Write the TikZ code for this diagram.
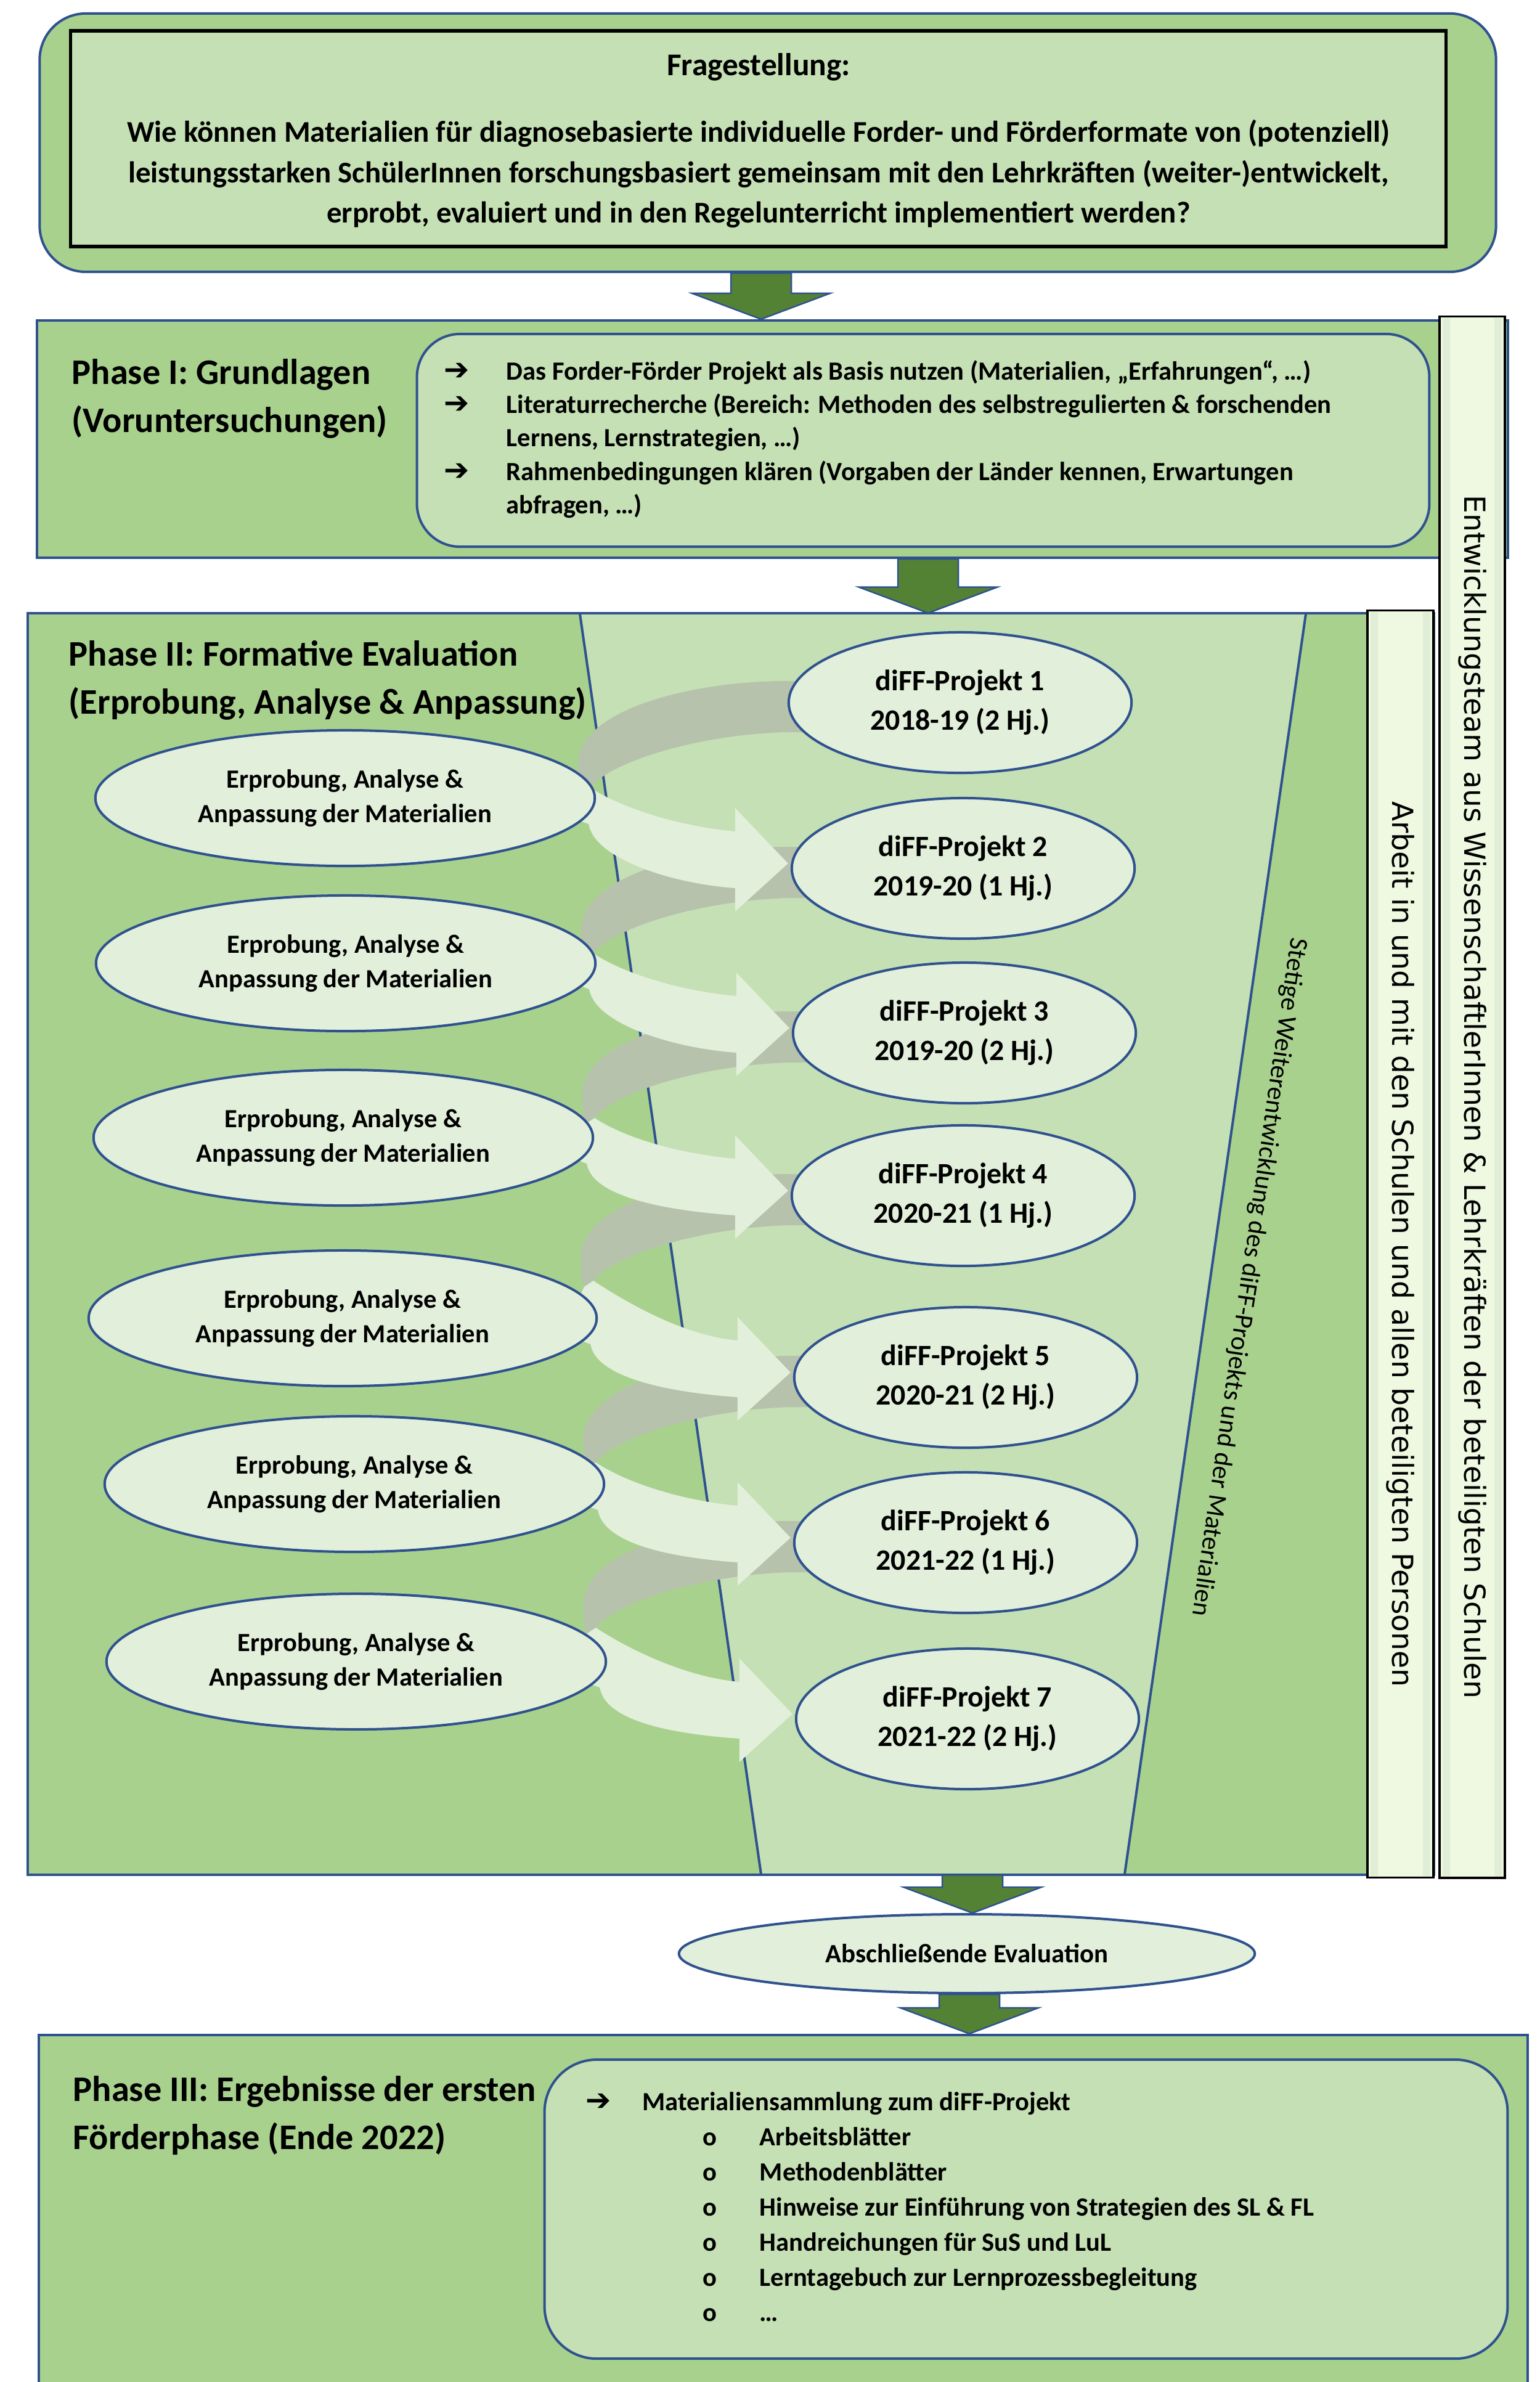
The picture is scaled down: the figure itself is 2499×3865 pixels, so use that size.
\documentclass[tikz,border=0pt]{standalone}
\usepackage{fontspec}
\setmainfont{Carlito}
\newfontfamily\bandfont{DejaVu Sans}
\newfontfamily\symfont{DejaVu Sans}
\usetikzlibrary{calc,shapes.geometric}

\definecolor{midgreen}{HTML}{A9D18E}
\definecolor{lightgreen}{HTML}{C5E0B4}
\definecolor{palegreen}{HTML}{E2EFDA}
\definecolor{ribbongray}{HTML}{B6C2AC}
\definecolor{edgeblue}{HTML}{2F528F}
\definecolor{arrowgreen}{HTML}{548235}
\definecolor{bandfill}{HTML}{EFF9E2}
\definecolor{bandstripe}{HTML}{E1EED7}

\pgfdeclarelayer{bg}
\pgfdeclarelayer{mid}
\pgfsetlayers{bg,mid,main}

\tikzset{
  bluedge/.style={draw=edgeblue, line width=0.04cm},
  outerbox/.style={fill=midgreen, bluedge, inner sep=0pt},
  innerbox/.style={fill=lightgreen, bluedge, inner sep=0pt},
  ellbase/.style={ellipse, fill=palegreen, bluedge, inner sep=0pt, align=center},
  leftell/.style={ellbase, minimum width=8.1cm, minimum height=2.2cm,
    font=\fontsize{12.1}{15.9}\selectfont\bfseries},
  rightell/.style={ellbase, minimum width=5.56cm, minimum height=2.28cm,
    font=\fontsize{13.6}{18.2}\selectfont\bfseries},
  qtext/.style={align=center, inner sep=0pt, font=\fontsize{13.9}{18.7}\selectfont\bfseries},
  phasetitle/.style={anchor=west, align=left, inner sep=0pt,
    font=\fontsize{16.6}{22.2}\selectfont\bfseries},
  listtext/.style={anchor=west, inner sep=0pt, font=\fontsize{12.1}{15.4}\selectfont\bfseries},
  bandnode/.style={fill=bandfill, draw=black, line width=0.035cm, inner sep=0pt,
    font=\fontsize{13.4}{16}\selectfont\bandfont\mdseries},
  blockarrow/.style={fill=arrowgreen, draw=edgeblue, line width=0.025cm},
}

% bullet arrow of the lists
\newcommand\listarrow{{\symfont\bfseries\fontsize{14}{14}\selectfont ➔}}

% grey back half of a spiral ribbon: from a project ellipse round to the left
\newcommand\greyribbon[1]{%
  \path ($(#1.west)+(-340,100)$) coordinate (rl) ($(#1.west)+(-320,138)$) coordinate (rj)
        ($(#1.west)+(-335,150)$) coordinate (rk);
  \fill[ribbongray] ($(#1.west)+(25,-35)$) -- ($(#1.west)+(-3,-35)$)
    .. controls ($(#1.west)+(-150,-35)$) and ($(rl)+(0,-90)$) .. (rl)
    .. controls ($(rl)+(0,25)$) and ($(rk)+(-3,-12)$) .. (rk) -- (rj)
    .. controls ($(rj)+(30,-40)$) and ($(#1.west)+(-150,52)$) .. ($(#1.west)+(-2,48)$)
    -- ($(#1.west)+(25,48)$) -- cycle;}
% pale front half with arrow head: past a work ellipse on to the next project ellipse
\newcommand\paleribbon[3]{%
  \path ($(#2.west)+(-320,138)$) coordinate (rj);
  \fill[palegreen] (rj)
    .. controls ($(rj)+(50,33)$) and ($(#3.west)+(-180,-68)$) .. ($(#3.west)+(-90,-60)$)
    -- ($(#3.west)+(-90,-98)$) -- ($(#3.west)+(-4,-8)$) -- ($(#3.west)+(-90,70)$)
    -- ($(#3.west)+(-90,32)$)
    .. controls ($(#3.west)+(-190,25)$) and ($(#1.east)+(-3,99)$) .. ($(#1.east)+(-12,42)$)
    -- ($(#1.east)+(-45,30)$) -- ($(#1.east)+(-45,0)$) -- ($(rj)+(-15,10)$) -- cycle;}
% broad downward block arrow between two nodes at a given x
\newcommand\blockarrowdraw[3]{%
  \path (#2.south -| #1) coordinate (bs) (#3.north -| #1) coordinate (be);
  \filldraw[blockarrow] ($(bs)+(-49,0)$) -- ($(be)+(-49,-42)$) -- ($(be)+(-112,-42)$)
    -- (be) -- ($(be)+(112,-42)$) -- ($(be)+(49,-42)$) -- ($(bs)+(49,0)$) -- cycle;}

\begin{document}
\begin{tikzpicture}[x=0.01cm, y=-0.01cm, font=\bfseries]
\useasboundingbox (0,0) rectangle (2499,3865);
\clip (0,0) rectangle (2499,3865);
\begin{pgfonlayer}{bg}
\fill[white] (0,0) rectangle (2499,3865);
\end{pgfonlayer}

% ---------- research question ----------
\node[outerbox, rounded corners=0.75cm, minimum width=23.62cm, minimum height=4.19cm] (top) at (1246,231.5) {};
\node[fill=lightgreen, draw=black, line width=0.055cm, minimum width=22.31cm, minimum height=3.5cm, inner sep=0pt] (qbox) at (1230.5,225) {};
\node[qtext, font=\fontsize{14.6}{18}\selectfont\bfseries] (qhead) at (1231,109) {Fragestellung:};
\node[qtext] (qbody) at (1231,282) {Wie können Materialien für diagnosebasierte individuelle Forder- und Förderformate von (potenziell)\\
leistungsstarken SchülerInnen forschungsbasiert gemeinsam mit den Lehrkräften (weiter-)entwickelt,\\
erprobt, evaluiert und in den Regelunterricht implementiert werden?};

% ---------- phase I ----------
\node[outerbox, minimum width=23.85cm, minimum height=3.85cm] (ph1) at (1253.5,712.5) {};
\node[innerbox, rounded corners=0.7cm, minimum width=16.42cm, minimum height=3.45cm] (ph1in) at (1498,714.5) {};
\node[phasetitle] (ph1title) at (116,647) {Phase I: Grundlagen\\(Voruntersuchungen)};
\node[listtext] (ph1list) at (720,714) {\begin{tabular}{@{}p{1.01cm}@{}l@{}}
\listarrow & Das Forder-Förder Projekt als Basis nutzen (Materialien, „Erfahrungen“, …)\\
\listarrow & Literaturrecherche (Bereich: Methoden des selbstregulierten \& forschenden\\
 & Lernens, Lernstrategien, …)\\
\listarrow & Rahmenbedingungen klären (Vorgaben der Länder kennen, Erwartungen\\
 & abfragen, …)
\end{tabular}};

% ---------- phase II ----------
\begin{pgfonlayer}{bg}
\node[fill=midgreen, minimum width=22.8cm, minimum height=20.45cm, inner sep=0pt] (ph2) at (1186,2018.5) {};
\fill[lightgreen] (941,996) -- (2119,996) -- (1825,3041) -- (1235,3041) -- cycle;
\draw[bluedge] (941,996) -- (1235,3041) (2119,996) -- (1825,3041);
\draw[bluedge] (ph2.north west) rectangle (ph2.south east);
\end{pgfonlayer}

\node[phasetitle] (ph2title) at (111,1104) {Phase II: Formative Evaluation\\(Erprobung, Analyse \& Anpassung)};

\node[font=\fontsize{12.1}{14}\selectfont\mdseries, rotate=-98.3, inner sep=0pt] (stetig) at (2026,2072)
  {Stetige Weiterentwicklung des diFF-Projekts und der Materialien};

% work ellipses
\node[leftell] (A1) at (560,1295) {Erprobung, Analyse \&\\Anpassung der Materialien};
\node[leftell] (A2) at (561,1563) {Erprobung, Analyse \&\\Anpassung der Materialien};
\node[leftell] (A3) at (557,1846) {Erprobung, Analyse \&\\Anpassung der Materialien};
\node[leftell, minimum width=8.24cm] (A4) at (556,2139) {Erprobung, Analyse \&\\Anpassung der Materialien};
\node[leftell] (A5) at (575,2408) {Erprobung, Analyse \&\\Anpassung der Materialien};
\node[leftell] (A6) at (578,2696) {Erprobung, Analyse \&\\Anpassung der Materialien};

% project ellipses
\node[rightell] (P1) at (1558,1140) {diFF-Projekt 1\\2018-19 (2 Hj.)};
\node[rightell] (P2) at (1563,1409) {diFF-Projekt 2\\2019-20 (1 Hj.)};
\node[rightell] (P3) at (1565,1676) {diFF-Projekt 3\\2019-20 (2 Hj.)};
\node[rightell] (P4) at (1563,1940) {diFF-Projekt 4\\2020-21 (1 Hj.)};
\node[rightell] (P5) at (1567,2235) {diFF-Projekt 5\\2020-21 (2 Hj.)};
\node[rightell] (P6) at (1567,2503) {diFF-Projekt 6\\2021-22 (1 Hj.)};
\node[rightell] (P7) at (1570,2789) {diFF-Projekt 7\\2021-22 (2 Hj.)};

% spiral ribbons behind the ellipses
\begin{pgfonlayer}{mid}
\greyribbon{P1}\greyribbon{P2}\greyribbon{P3}
\greyribbon{P4}\greyribbon{P5}\greyribbon{P6}
\paleribbon{A1}{P1}{P2}\paleribbon{A2}{P2}{P3}\paleribbon{A3}{P3}{P4}
\paleribbon{A4}{P4}{P5}\paleribbon{A5}{P5}{P6}\paleribbon{A6}{P6}{P7}
\end{pgfonlayer}

% ---------- vertical bands ----------
\node[bandnode, rotate=-90, minimum width=25.32cm, minimum height=1.06cm] (team) at (2389,1780)
  {Entwicklungsteam aus WissenschaftlerInnen \& Lehrkräften der beteiligten Schulen};
\node[bandnode, rotate=-90, minimum width=20.55cm, minimum height=1.07cm] (schools) at (2272.5,2018.5)
  {Arbeit in und mit den Schulen und allen beteiligten Personen};
\fill[bandstripe] (2341,516) rectangle (2353,3044) (2425,516) rectangle (2437,3044);
\fill[bandstripe] (2224,993) rectangle (2236,3044) (2309,993) rectangle (2321,3044);

% ---------- final evaluation ----------
\node[ellbase, minimum width=9.34cm, minimum height=1.28cm, font=\fontsize{12.2}{14}\selectfont\bfseries] (ab) at (1569,3170) {Abschließende Evaluation};

% ---------- phase III ----------
\node[outerbox, minimum width=24.14cm, minimum height=6.0cm] (ph3) at (1271,3602) {};
\node[innerbox, rounded corners=0.85cm, minimum width=15.62cm, minimum height=4.85cm] (ph3in) at (1665,3584.5) {};
\node[phasetitle] (ph3title) at (118,3433) {Phase III: Ergebnisse der ersten\\Förderphase (Ende 2022)};
\node[listtext, font=\fontsize{12.1}{16.2}\selectfont\bfseries] (ph3list) at (950,3584) {\begin{tabular}{@{}p{0.92cm}@{}p{1.9cm}@{}l@{}}
\listarrow & \multicolumn{2}{@{}l@{}}{Materialiensammlung zum diFF-Projekt}\\
 & \hspace{0.98cm}o & Arbeitsblätter\\
 & \hspace{0.98cm}o & Methodenblätter\\
 & \hspace{0.98cm}o & Hinweise zur Einführung von Strategien des SL \& FL\\
 & \hspace{0.98cm}o & Handreichungen für SuS und LuL\\
 & \hspace{0.98cm}o & Lerntagebuch zur Lernprozessbegleitung\\
 & \hspace{0.98cm}o & …
\end{tabular}};

% ---------- block arrows ----------
\coordinate (xa) at (1235,0);
\coordinate (xb) at (1506,0);
\coordinate (xc) at (1578,0);
\coordinate (xd) at (1573,0);
\blockarrowdraw{xa}{top}{ph1}
\blockarrowdraw{xb}{ph1}{ph2}
\blockarrowdraw{xc}{ph2}{ab}
\blockarrowdraw{xd}{ab}{ph3}
\end{tikzpicture}
\end{document}
